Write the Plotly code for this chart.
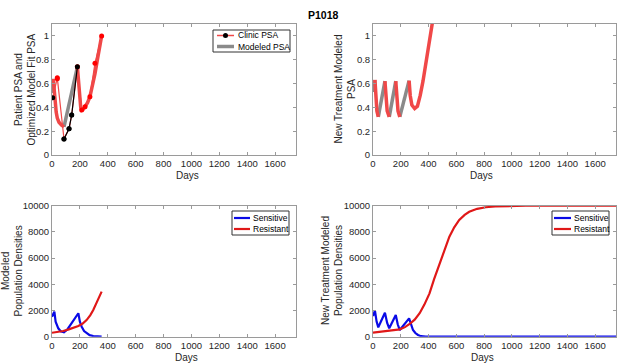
import plotly.graph_objects as go

# ---------------- data ----------------
title_text = "P1018"

# Top-left: clinic PSA measurements
clinic_days = [5, 38, 38, 86, 122, 141, 182, 213, 237, 272, 308, 356]
clinic_psa = [0.48, 0.64, 0.648, 0.134, 0.22, 0.335, 0.74, 0.377, 0.405, 0.49, 0.77, 1.0]
clinic_colors = ["black", "red", "red", "black", "black", "black", "red", "red", "red", "red", "red", "red"]
clinic_black_days = [86, 122, 141, 182]
clinic_black_psa = [0.134, 0.22, 0.335, 0.74]

# Top-left: modeled PSA (fit), on-treatment (red) and off-treatment (grey) segments
fit_grey_days = [0, 9, None, 86, 130, 182]
fit_grey_psa = [0.52, 0.64, None, 0.236, 0.46, 0.74]
fit_red_days = [9, 15, 21, 30, 38, 50, 69, 86, None,
                182, 190, 198, 206, 213, 225, 237, 255, 272, 290, 308, 330, 356]
fit_red_psa = [0.64, 0.53, 0.447, 0.36, 0.31, 0.275, 0.25, 0.236, None,
               0.74, 0.6, 0.48, 0.40, 0.377, 0.385, 0.405, 0.44, 0.49, 0.58, 0.68, 0.83, 1.0]

# Top-right: new treatment modeled PSA
new_grey_days = [0, 14, None, 38, 86, None, 117, 164, None, 193, 260]
new_grey_psa = [0.53, 0.63, None, 0.32, 0.62, None, 0.32, 0.62, None, 0.32, 0.625]
new_red_days = [14, 20, 28, 38, None, 86, 92, 102, 117, None, 164, 170, 180, 193, None,
                260, 268, 280, 292, 300, 320, 340, 360, 383, 405, 420, 440]
new_red_psa = [0.63, 0.47, 0.37, 0.32, None, 0.62, 0.47, 0.37, 0.32, None, 0.62, 0.47, 0.37, 0.32, None,
               0.625, 0.50, 0.42, 0.395, 0.39, 0.41, 0.50, 0.62, 0.79, 0.95, 1.06, 1.2]

# Bottom-left: modeled population densities
pop_days_s = [0, 10, 17, 26, 45, 62, 86, 110, 141, 165, 189, 200, 213, 230, 248, 270, 296, 330, 356]
pop_sens = [1530, 1830, 1910, 1150, 640, 420, 340, 550, 1020, 1400, 1790, 1150, 760, 430, 260, 120, 50, 10, 5]
pop_days_r = [0, 40, 81, 120, 160, 189, 220, 248, 275, 296, 320, 340, 356]
pop_res = [300, 360, 435, 560, 700, 815, 1000, 1270, 1650, 2040, 2600, 3000, 3440]

# Bottom-right: new treatment modeled population densities
new_days_s = [0, 14, 26, 38, 86, 102, 117, 164, 178, 193, 260, 275, 288, 305, 324, 345, 380, 450, 1750]
new_sens = [1580, 1985, 1150, 715, 1830, 1050, 640, 1650, 950, 510, 1400, 850, 510, 280, 130, 40, 5, 0, 0]
new_days_r = [0, 100, 193, 230, 264, 300, 336, 370, 407, 440, 479, 515, 550, 585, 621, 660,
              693, 750, 812, 880, 955, 1100, 1750]
new_res = [305, 420, 560, 730, 970, 1300, 1790, 2450, 3310, 4400, 5600, 6700, 7630, 8350, 8910, 9300,
           9540, 9760, 9880, 9940, 9970, 9995, 10000]

x_ticks = [0, 200, 400, 600, 800, 1000, 1200, 1400, 1600]
psa_ticks = [0, 0.2, 0.4, 0.6, 0.8, 1]
psa_tick_text = ["0", "0.2", "0.4", "0.6", "0.8", "1"]
pop_ticks = [0, 2000, 4000, 6000, 8000, 10000]
pop_tick_text = ["0", "2000", "4000", "6000", "8000", "10000"]

legend_top = ["Clinic PSA", "Modeled PSA"]
legend_pop = ["Sensitive", "Resistant"]

# ---------------- styling ----------------
RED = "#F04848"
GREY = "#8A8A8A"
BLUE = "#0A0AE6"
DRED = "#E01818"
AX = "#9A9A9A"
TXT = "#262626"
FONT = "Liberation Sans, Arial, sans-serif"
TICK_FS = 9.5
LABEL_FS = 10
LEG_FS = 8.5

W, H = 617, 364
def px_x(p): return p / W
def px_y(p): return 1 - p / H

fig = go.Figure()

# Top-left
fig.add_trace(go.Scatter(x=fit_grey_days, y=fit_grey_psa, mode="lines", name=legend_top[1],
                         line=dict(color=GREY, width=3.5), xaxis="x", yaxis="y", showlegend=False))
fig.add_trace(go.Scatter(x=fit_red_days, y=fit_red_psa, mode="lines", showlegend=False,
                         line=dict(color=RED, width=3.5), xaxis="x", yaxis="y"))
fig.add_trace(go.Scatter(x=clinic_days, y=clinic_psa, mode="lines+markers", name=legend_top[0],
                         line=dict(color=RED, width=1.2),
                         marker=dict(color=clinic_colors, size=5),
                         xaxis="x", yaxis="y", showlegend=False))
fig.add_trace(go.Scatter(x=clinic_black_days, y=clinic_black_psa, mode="lines+markers", showlegend=False,
                         line=dict(color="black", width=1.2), marker=dict(color="black", size=5),
                         xaxis="x", yaxis="y"))

# Top-right
fig.add_trace(go.Scatter(x=new_grey_days, y=new_grey_psa, mode="lines", showlegend=False,
                         line=dict(color=GREY, width=3.5), xaxis="x2", yaxis="y2"))
fig.add_trace(go.Scatter(x=new_red_days, y=new_red_psa, mode="lines", showlegend=False,
                         line=dict(color=RED, width=3.5), xaxis="x2", yaxis="y2"))

# Bottom-left
fig.add_trace(go.Scatter(x=pop_days_s, y=pop_sens, mode="lines", name=legend_pop[0], showlegend=False,
                         line=dict(color=BLUE, width=2.2), xaxis="x3", yaxis="y3"))
fig.add_trace(go.Scatter(x=pop_days_r, y=pop_res, mode="lines", name=legend_pop[1], showlegend=False,
                         line=dict(color=DRED, width=2.2), xaxis="x3", yaxis="y3"))

# Bottom-right
fig.add_trace(go.Scatter(x=new_days_s, y=new_sens, mode="lines", name=legend_pop[0], showlegend=False,
                         line=dict(color=BLUE, width=2.2), xaxis="x4", yaxis="y4"))
fig.add_trace(go.Scatter(x=new_days_r, y=new_res, mode="lines", name=legend_pop[1], showlegend=False,
                         line=dict(color=DRED, width=2.2), xaxis="x4", yaxis="y4"))

def xaxis(dom, anchor):
    return dict(domain=dom, anchor=anchor, range=[0, 1750], tickvals=x_ticks,
                showline=True, mirror="ticks", linecolor=AX, linewidth=1,
                ticks="inside", ticklen=3, tickcolor=AX, showgrid=False, zeroline=False,
                tickfont=dict(family=FONT, size=TICK_FS, color=TXT))

def yaxis(dom, anchor, rng, tv, tt):
    return dict(domain=dom, anchor=anchor, range=rng, tickvals=tv, ticktext=tt,
                showline=True, mirror="ticks", linecolor=AX, linewidth=1,
                ticks="inside", ticklen=3, tickcolor=AX, showgrid=False, zeroline=False,
                tickfont=dict(family=FONT, size=TICK_FS, color=TXT))

xl = [px_x(52), px_x(296)]
xr = [px_x(373), px_x(616)]
yt = [px_y(155), px_y(24)]
yb = [px_y(336.7), px_y(205.7)]

fig.update_layout(
    width=W, height=H, margin=dict(l=0, r=0, t=0, b=0, autoexpand=False),
    paper_bgcolor="white", plot_bgcolor="white",
    font=dict(family=FONT, color=TXT),
    xaxis=xaxis(xl, "y"), yaxis=yaxis(yt, "x", [0, 1.1], psa_ticks, psa_tick_text),
    xaxis2=xaxis(xr, "y2"), yaxis2=yaxis(yt, "x2", [0, 1.1], psa_ticks, psa_tick_text),
    xaxis3=xaxis(xl, "y3"), yaxis3=yaxis(yb, "x3", [0, 10000], pop_ticks, pop_tick_text),
    xaxis4=xaxis(xr, "y4"), yaxis4=yaxis(yb, "x4", [0, 10000], pop_ticks, pop_tick_text),
    showlegend=False,
)

ann = []
shapes = []
ann.append(dict(text="<b>" + title_text + "</b>", x=px_x(323), y=px_y(7), xref="paper", yref="paper",
                showarrow=False, font=dict(family=FONT, size=10.5, color="black")))
for xc in (174, 495):
    ann.append(dict(text="Days", x=px_x(xc), y=px_y(175), xref="paper", yref="paper",
                    showarrow=False, font=dict(family=FONT, size=LABEL_FS, color=TXT)))
    ann.append(dict(text="Days", x=px_x(xc), y=0, xref="paper", yref="paper", yanchor="bottom",
                    borderpad=0, showarrow=False, font=dict(family=FONT, size=LABEL_FS, color=TXT)))
ylabels = [
    ("Patient PSA and<br>Optimized Model Fit PSA", 24, 89.5),
    ("New Treatment Modeled<br>PSA", 344, 89.5),
    ("Modeled<br>Population Densities", 11.5, 271),
    ("New Treatment Modeled<br>Population Densities", 332, 271),
]
for t, xc, yc in ylabels:
    ann.append(dict(text=t, x=px_x(xc), y=px_y(yc), xref="paper", yref="paper", textangle=-90,
                    showarrow=False, xanchor="center", yanchor="middle",
                    font=dict(family=FONT, size=LABEL_FS, color=TXT)))

# Compact MATLAB-style legend boxes (drawn in paper space)
def legend_box(x0, y0, x1, y1, entries, sx0, sx1, tx, fsize):
    shapes.append(dict(type="rect", xref="paper", yref="paper",
                       x0=px_x(x0), x1=px_x(x1), y0=px_y(y1), y1=px_y(y0),
                       line=dict(color="#333333", width=1), fillcolor="white", layer="above"))
    for label, ycen, color, width, marker in entries:
        shapes.append(dict(type="line", xref="paper", yref="paper",
                           x0=px_x(sx0), x1=px_x(sx1), y0=px_y(ycen), y1=px_y(ycen),
                           line=dict(color=color, width=width), layer="above"))
        if marker:
            mx = (sx0 + sx1) / 2
            shapes.append(dict(type="circle", xref="paper", yref="paper",
                               x0=px_x(mx - 2.5), x1=px_x(mx + 2.5),
                               y0=px_y(ycen + 2.5), y1=px_y(ycen - 2.5),
                               fillcolor=marker, line=dict(color=marker, width=0), layer="above"))
        ann.append(dict(text=label, x=px_x(tx), y=px_y(ycen), xref="paper", yref="paper",
                        xanchor="left", yanchor="middle", showarrow=False,
                        font=dict(family=FONT, size=fsize, color="black")))

legend_box(213, 30, 290, 52,
           [(legend_top[0], 35.5, RED, 1.5, "black"), (legend_top[1], 46.5, GREY, 3.5, None)],
           217, 234, 236, LEG_FS)
legend_box(232, 211, 289, 235,
           [(legend_pop[0], 218, BLUE, 2.2, None), (legend_pop[1], 229, DRED, 2.2, None)],
           234, 250, 251, LEG_FS)
legend_box(552, 211, 609, 235,
           [(legend_pop[0], 218, BLUE, 2.2, None), (legend_pop[1], 229, DRED, 2.2, None)],
           554, 571, 572, LEG_FS)

fig.update_layout(annotations=ann, shapes=shapes)

fig.write_html("out.html", config={"displayModeBar": False},
               post_script="document.body.style.margin='0';document.body.style.padding='0';")
